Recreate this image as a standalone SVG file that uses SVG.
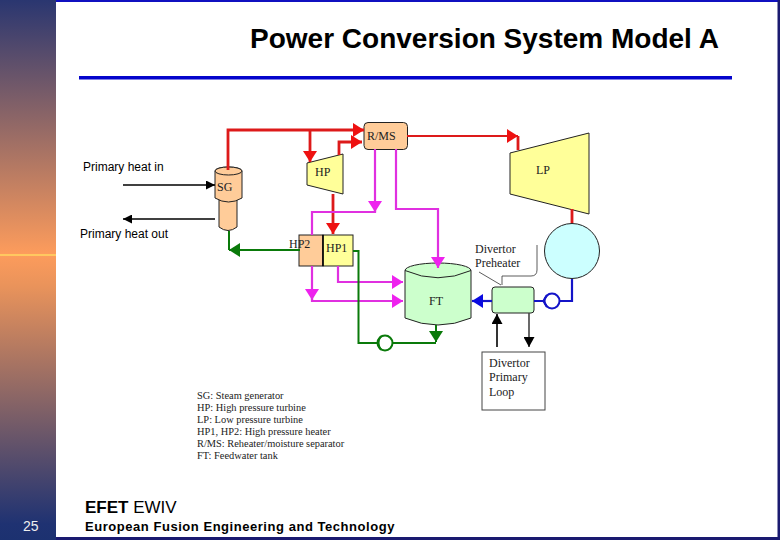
<svg xmlns="http://www.w3.org/2000/svg" width="780" height="540" viewBox="0 0 780 540">
<defs>
<linearGradient id="side" x1="0" y1="0" x2="0" y2="1">
<stop offset="0" stop-color="#2a3670"/>
<stop offset="0.47" stop-color="#fd9c5c"/>
<stop offset="0.53" stop-color="#e9935b"/>
<stop offset="0.97" stop-color="#1f3272"/>
<stop offset="1" stop-color="#1c3170"/>
</linearGradient>
<marker id="aRed" markerUnits="userSpaceOnUse" markerWidth="12" markerHeight="14" refX="11" refY="7" orient="auto"><path d="M0 0L11 7L0 14z" fill="#ee1111"/></marker>
<marker id="aMag" markerUnits="userSpaceOnUse" markerWidth="12" markerHeight="14" refX="11" refY="7" orient="auto"><path d="M0 0L11 7L0 14z" fill="#ee22ee"/></marker>
<marker id="aGrn" markerUnits="userSpaceOnUse" markerWidth="12" markerHeight="14" refX="11" refY="7" orient="auto"><path d="M0 0L11 7L0 14z" fill="#0a7a0a"/></marker>
<marker id="aBlu" markerUnits="userSpaceOnUse" markerWidth="12" markerHeight="14" refX="11" refY="7" orient="auto"><path d="M0 0L11 7L0 14z" fill="#0a0ae0"/></marker>
<marker id="aBlk" markerUnits="userSpaceOnUse" markerWidth="10" markerHeight="9" refX="9" refY="4.500" orient="auto"><path d="M0 0L9 4.500L0 9z" fill="#000"/></marker>
<marker id="aBlkL" markerUnits="userSpaceOnUse" markerWidth="11" markerHeight="11" refX="10" refY="5.500" orient="auto"><path d="M0 0L10 5.500L0 11z" fill="#000"/></marker>
</defs>
<style>
.ln{fill:none;stroke-linejoin:miter}
.red{stroke:#dd1a1a;stroke-width:2.800}
.mag{stroke:#e030e0;stroke-width:2.200}
.grn{stroke:#0a7a0a;stroke-width:2}
.blu{stroke:#1414c8;stroke-width:2.200}
.blk{stroke:#000;stroke-width:1.600}
.sh{stroke:#222;stroke-width:1}
.ser{font-family:"Liberation Serif","Times New Roman",serif;fill:#222}
.s12{font-size:12px}
.leg{font-size:10.400px}
.san{font-family:"Liberation Sans",Arial,sans-serif;fill:#000}
</style>
<rect width="780" height="540" fill="#fff"/>
<rect id="sidebar" x="0" y="0" width="56" height="540" fill="url(#side)"/>
<rect x="0" y="254" width="56" height="2" fill="#ffc860"/>
<rect x="56" y="0" width="724" height="2" fill="#1010c0"/>
<rect x="56" y="537" width="724" height="3" fill="#1a1a70"/>
<rect x="777.500" y="0" width="2.500" height="540" fill="#1a1a70"/>
<text id="title" class="san" x="250" y="48" font-size="28" font-weight="700">Power Conversion System Model A</text>
<rect id="rule" x="79" y="76" width="653" height="3.500" fill="#0505cc"/>

<g id="SG">
<path class="sh" fill="#ffcc99" d="M219 200H237V227Q228 234 219 227z"/>
<path class="sh" fill="#ffcc99" d="M215 171A13.500 4 0 0 1 242 171V198Q228.500 206 215 198z"/>
<ellipse class="sh" fill="#ffcc99" cx="228.500" cy="171" rx="13.500" ry="4"/>
<text class="ser s12" x="217" y="191">SG</text>
</g>
<g id="HP">
<path class="sh" fill="#ffff99" d="M307 163L343 154V194L307 185z"/>
<text class="ser s12" x="315" y="176">HP</text>
</g>
<g id="RMS">
<rect class="sh" fill="#ffcc99" x="364" y="122.500" width="43.500" height="27" rx="4"/>
<text class="ser s12" x="367" y="140">R/MS</text>
</g>
<g id="LP">
<path class="sh" fill="#ffff99" d="M510 153L589 133V214L510 194z"/>
<text class="ser s12" x="536" y="174">LP</text>
</g>
<g id="condenser">
<circle class="sh" fill="#ccffff" cx="572" cy="251" r="27.500"/>
</g>
<g id="HP2">
<rect class="sh" fill="#ffcc99" x="299" y="235" width="24" height="31"/>
<text class="ser s12" x="289" y="248">HP2</text>
</g>
<g id="HP1">
<rect class="sh" fill="#ffff99" x="323" y="235" width="30" height="31"/>
<path d="M323 235V266" stroke="#000" stroke-width="1.500"/>
<text class="ser s12" x="326" y="252">HP1</text>
</g>
<g id="FT">
<path class="sh" fill="#ccffcc" d="M405 270.500A33 7.500 0 0 1 471 270.500V318Q438 332 405 318z"/>
<path class="ln sh" d="M405 270.500Q438 285 471 270.500"/>
<text class="ser s12" x="429" y="305">FT</text>
</g>
<g id="preheater">
<rect class="sh" fill="#ccffcc" x="492" y="287" width="42" height="26" rx="3"/>
<text class="ser s12" x="475" y="253">Divertor</text>
<text class="ser s12" x="475" y="267">Preheater</text>
</g>
<g id="loop">
<rect fill="#fff" stroke="#444" stroke-width="1" x="482" y="352" width="63" height="58"/>
<text class="ser s12" x="489" y="367">Divertor</text>
<text class="ser s12" x="489" y="381">Primary</text>
<text class="ser s12" x="489" y="396">Loop</text>
</g>

<g id="connectors">
<path class="ln red" d="M228 170V130H364" marker-end="url(#aRed)"/>
<path class="ln red" d="M310 130V162" marker-end="url(#aRed)"/>
<path class="ln red" d="M339 155V142H362" marker-end="url(#aRed)"/>
<path class="ln red" d="M333 194V234" marker-end="url(#aRed)"/>
<path class="ln red" style="stroke-width:2" d="M407 136H518" marker-end="url(#aRed)"/>
<path class="ln red" d="M518 136V150"/>
<path class="ln red" d="M572 209V223"/>
<path class="ln mag" d="M375 149V212" marker-end="url(#aMag)"/>
<path class="ln mag" d="M375 208V212H312V235"/>
<path class="ln mag" d="M396 149V209H438V268" marker-end="url(#aMag)"/>
<path class="ln mag" d="M338 266V282H403" marker-end="url(#aMag)"/>
<path class="ln mag" d="M312 266V300" marker-end="url(#aMag)"/>
<path class="ln mag" d="M312 296V301H403" marker-end="url(#aMag)"/>
<path class="ln grn" d="M229 231V250"/>
<path class="ln grn" d="M300 250H229" marker-end="url(#aGrn)"/>
<path class="ln grn" d="M353 251H358.500V343H436"/>
<path class="ln grn" d="M436 325V342" marker-end="url(#aGrn)"/>
<path class="ln blu" d="M572 279V301H534"/>
<path class="ln blu" d="M492 301H472" marker-end="url(#aBlu)"/>
<path class="ln blk" d="M123 185H215" marker-end="url(#aBlk)"/>
<path class="ln blk" d="M215 219H123" marker-end="url(#aBlk)"/>
<path class="ln blk" d="M497 347V314" marker-end="url(#aBlkL)"/>
<path class="ln blk" style="stroke:#444" d="M529 313V347" marker-end="url(#aBlkL)"/>
<path class="ln" stroke="#333" stroke-width="0.800" d="M479 272L501 285M502 285V276H531Q537 276 537 270V245"/>
</g>

<g id="pump1">
<circle fill="#fff" stroke="#0a7a0a" stroke-width="2" cx="385" cy="343" r="7.500"/>
<path class="ln grn" d="M381 336Q376 343 381 350"/>
</g>
<g id="pump2">
<circle fill="#fff" stroke="#1414c8" stroke-width="2" cx="552" cy="301" r="7.500"/>
<path class="ln blu" d="M547 295L543.500 301L547 307"/>
</g>

<text class="san" x="83" y="171" font-size="12">Primary heat in</text>
<text class="san" x="80" y="238" font-size="12">Primary heat out</text>
<g id="legend" class="ser leg">
<text x="197" y="399">SG: Steam generator</text>
<text x="197" y="411">HP: High pressure turbine</text>
<text x="197" y="423">LP: Low pressure turbine</text>
<text x="197" y="435">HP1, HP2: High pressure heater</text>
<text x="197" y="447">R/MS: Reheater/moisture separator</text>
<text x="197" y="459">FT: Feedwater tank</text>
</g>
<text class="san" x="85" y="513" font-size="17"><tspan font-weight="700">EFET</tspan> EWIV</text>
<text class="san" x="85" y="531" font-size="13" font-weight="700" letter-spacing="0.540">European Fusion Engineering and Technology</text>
<text class="san" style="fill:#eee" x="23" y="531" font-size="14">25</text>
</svg>
